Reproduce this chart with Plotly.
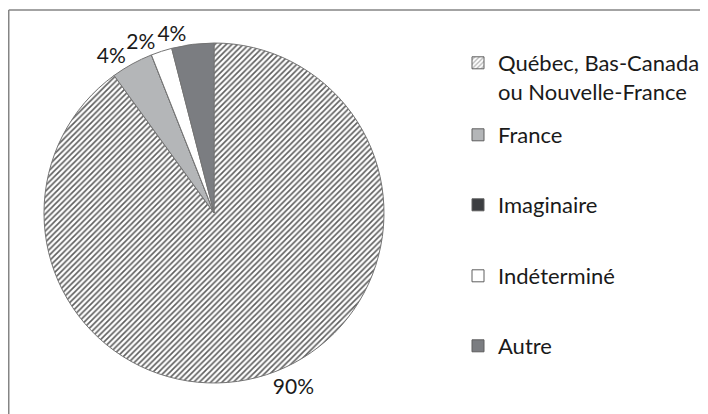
import plotly.graph_objects as go

labels = ["Québec, Bas-Canada<br>ou Nouvelle-France", "France", "Imaginaire", "Indéterminé", "Autre"]
shares = [90, 4, 0, 2, 4]
colors = ["#ffffff", "#b4b6b8", "#3b3d40", "#ffffff", "#7b7d81"]
patterns = ["/", "", "", "", ""]

# which slice labels are drawn by which pie layer (keeps Plotly from
# stacking neighbouring outside labels of the same quadrant)
label_layers = [[0, 4], [1], [3]]

FONT = "Lato"
W, H = 708, 414
OFF = 8  # the page body is offset by the browser's default 8px margin


def px_x(x):
    return (x - OFF) / W


def px_y(y):
    return 1 - (y - OFF) / H


pie_domain = dict(x=[px_x(44), px_x(384)], y=[px_y(383), px_y(43)])

fig = go.Figure()
for layer, idx in enumerate(label_layers):
    texts = [f"{v:.0f}%" if (i in idx and v > 0) else "" for i, v in enumerate(shares)]
    if layer == 0:
        marker = dict(
            colors=colors,
            line=dict(color="#747474", width=1),
            pattern=dict(shape=patterns, fgcolor="#5e5e5e", bgcolor="#ffffff", size=4, solidity=0.4),
        )
        hov = "label+percent"
    else:
        marker = dict(colors=["rgba(0,0,0,0)"] * len(shares), line=dict(width=0))
        hov = "skip"
    fig.add_trace(go.Pie(
        labels=labels,
        values=shares,
        text=texts,
        textinfo="text",
        textposition="outside",
        sort=False,
        direction="clockwise",
        rotation=0,
        showlegend=False,
        marker=marker,
        textfont=dict(family=FONT, size=21, color="#1a1a1a"),
        domain=pie_domain,
        hoverinfo=hov,
    ))

# legend entries (one legend per entry to reproduce the spacing)
for i, (lab, col, pat) in enumerate(zip(labels, colors, patterns)):
    lname = "legend" if i == 0 else f"legend{i + 1}"
    fig.add_trace(go.Bar(
        x=[None], y=[None], name=lab, legend=lname, showlegend=True,
        marker=dict(color=col, line=dict(color="#5e5e5e", width=1),
                    pattern=dict(shape=pat, fgcolor="#6a6a6a", bgcolor="#ffffff", size=4, solidity=0.4)),
        hoverinfo="skip",
    ))

legend_common = dict(
    xanchor="left", x=px_x(458), bgcolor="rgba(0,0,0,0)", borderwidth=0,
    font=dict(family=FONT, size=22, color="#1a1a1a"), valign="top",
)
legend_text_centers = [63, 135, 205, 276, 346]
layout_legends = {}
for i, c in enumerate(legend_text_centers):
    lname = "legend" if i == 0 else f"legend{i + 1}"
    if i == 0:
        layout_legends[lname] = dict(legend_common, yanchor="top", y=px_y(c - 21))
    else:
        layout_legends[lname] = dict(legend_common, yanchor="middle", y=px_y(c))

fig.update_layout(
    width=W, height=H,
    margin=dict(l=0, r=0, t=0, b=0, autoexpand=False),
    paper_bgcolor="#ffffff", plot_bgcolor="rgba(0,0,0,0)",
    xaxis=dict(visible=False), yaxis=dict(visible=False),
    shapes=[
        dict(type="line", xref="paper", yref="paper", x0=px_x(8.75), x1=1, y0=px_y(10), y1=px_y(10),
             line=dict(color="#858585", width=1.5)),
        dict(type="line", xref="paper", yref="paper", x0=px_x(8.75), x1=px_x(8.75), y0=0, y1=px_y(10),
             line=dict(color="#858585", width=1.5)),
    ],
    **layout_legends,
)

fig.write_html("out.html")
